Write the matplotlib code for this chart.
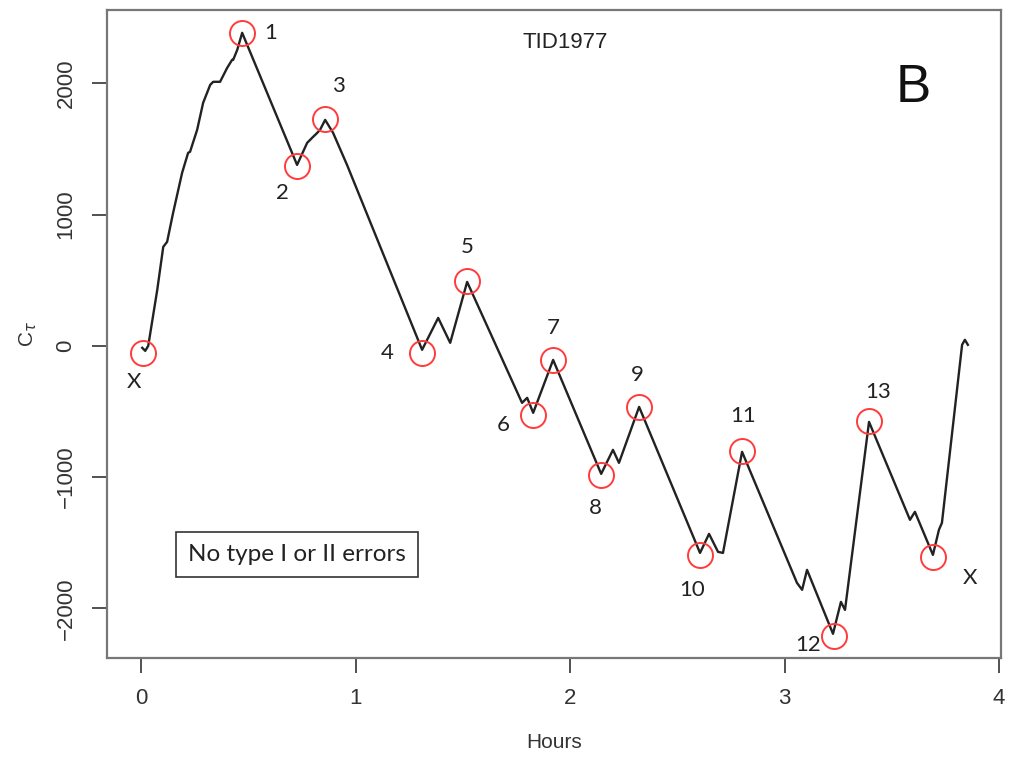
import matplotlib.pyplot as plt

# cumulative sum trace, hours vs C_tau
hours = [0.005, 0.019, 0.033, 0.075, 0.103, 0.121, 0.149, 0.191, 0.219, 0.228,
         0.261, 0.289, 0.322, 0.336, 0.368, 0.401, 0.424, 0.429, 0.448, 0.471,
         0.727, 0.774, 0.797, 0.821, 0.834, 0.858, 0.895, 0.960, 1.310, 1.385,
         1.441, 1.520, 1.776, 1.800, 1.828, 1.921, 2.145, 2.200, 2.228, 2.322,
         2.606, 2.648, 2.690, 2.713, 2.802, 3.058, 3.082, 3.105, 3.226, 3.263,
         3.282, 3.394, 3.585, 3.608, 3.692, 3.720, 3.734, 3.828, 3.841, 3.855]
ctau = [-15, -38, 0, 426, 754, 792, 1013, 1318, 1470, 1478,
        1645, 1851, 1988, 2011, 2011, 2117, 2178, 2178, 2254, 2384,
        1378, 1546, 1584, 1622, 1645, 1721, 1622, 1378, -30, 213,
        23, 487, -434, -396, -510, -107, -975, -792, -891, -465,
        -1577, -1432, -1569, -1577, -807, -1805, -1858, -1706, -2193, -1950,
        -2011, -579, -1325, -1264, -1592, -1401, -1348, 8, 46, 8]

# change points (circled)
cp_hours = [0.009, 0.471, 0.727, 0.858, 1.310, 1.520, 1.828, 1.921, 2.145,
            2.322, 2.606, 2.802, 3.230, 3.394, 3.692]
cp_ctau = [-53, 2384, 1371, 1729, -53, 495, -525, -107, -983,
           -465, -1592, -800, -2208, -571, -1607]
cp_labels = ['X', '1', '2', '3', '4', '5', '6', '7', '8',
             '9', '10', '11', '12', '13', 'X']
# label offsets in pixels
cp_offsets = [(-9, -29), (28, 0), (-15, -27), (13, 33), (-35, 0), (0, 34),
              (-30, -10), (0, 32), (-6, -33), (-2, 32), (-8, -35), (1, 35),
              (-26, -9), (9, 29), (37, -21)]

plt.rcParams['font.family'] = ['Liberation Sans', 'DejaVu Sans']

fig = plt.figure(figsize=(10.1, 7.57), dpi=100)
ax = fig.add_axes([0.106, 0.131, 0.885, 0.856])

ax.plot(hours, ctau, color='#222222', linewidth=1.7, zorder=2)
ax.plot(cp_hours, cp_ctau, 'o', markersize=18, markerfacecolor='none',
        markeredgecolor='#ff3b3b', markeredgewidth=1.4, zorder=3)

for x, y, lab, off in zip(cp_hours, cp_ctau, cp_labels, cp_offsets):
    ax.annotate(lab, (x, y), xytext=off, textcoords='offset pixels',
                ha='center', va='center', fontsize=16, family='Lato',
                color='#222222')

ax.set_xlim(-0.159, 4.009)
ax.set_ylim(-2376, 2559)
ax.set_xticks([0, 1, 2, 3, 4])
ax.set_yticks([-2000, -1000, 0, 1000, 2000])
ax.set_yticklabels(['\u22122000', '\u22121000', '0', '1000', '2000'],
                   rotation=90, va='center')
ax.tick_params(direction='out', length=11, width=1.2, pad=11,
               labelsize=16, colors='#333333')
for s in ax.spines.values():
    s.set_color('#777777')
    s.set_linewidth(1.6)

ax.set_xlabel('Hours', fontsize=15, color='#333333', labelpad=17)
ax.set_ylabel(r'C$_\tau$', fontsize=15, color='#333333', labelpad=12)

ax.text(0.513, 0.95, 'TID1977', transform=ax.transAxes, ha='center',
        va='center', fontsize=16, color='#222222')
ax.text(0.902, 0.88, 'B', transform=ax.transAxes, ha='center',
        va='center', fontsize=38, color='#111111')
ax.text(0.2125, 0.16, 'No type I or II errors', transform=ax.transAxes,
        ha='center', va='center', fontsize=17.5, family='Lato', color='#222222',
        bbox=dict(boxstyle='square,pad=0.5', facecolor='white',
                  edgecolor='#333333', linewidth=1.2))

plt.savefig('out.png', dpi=100)
